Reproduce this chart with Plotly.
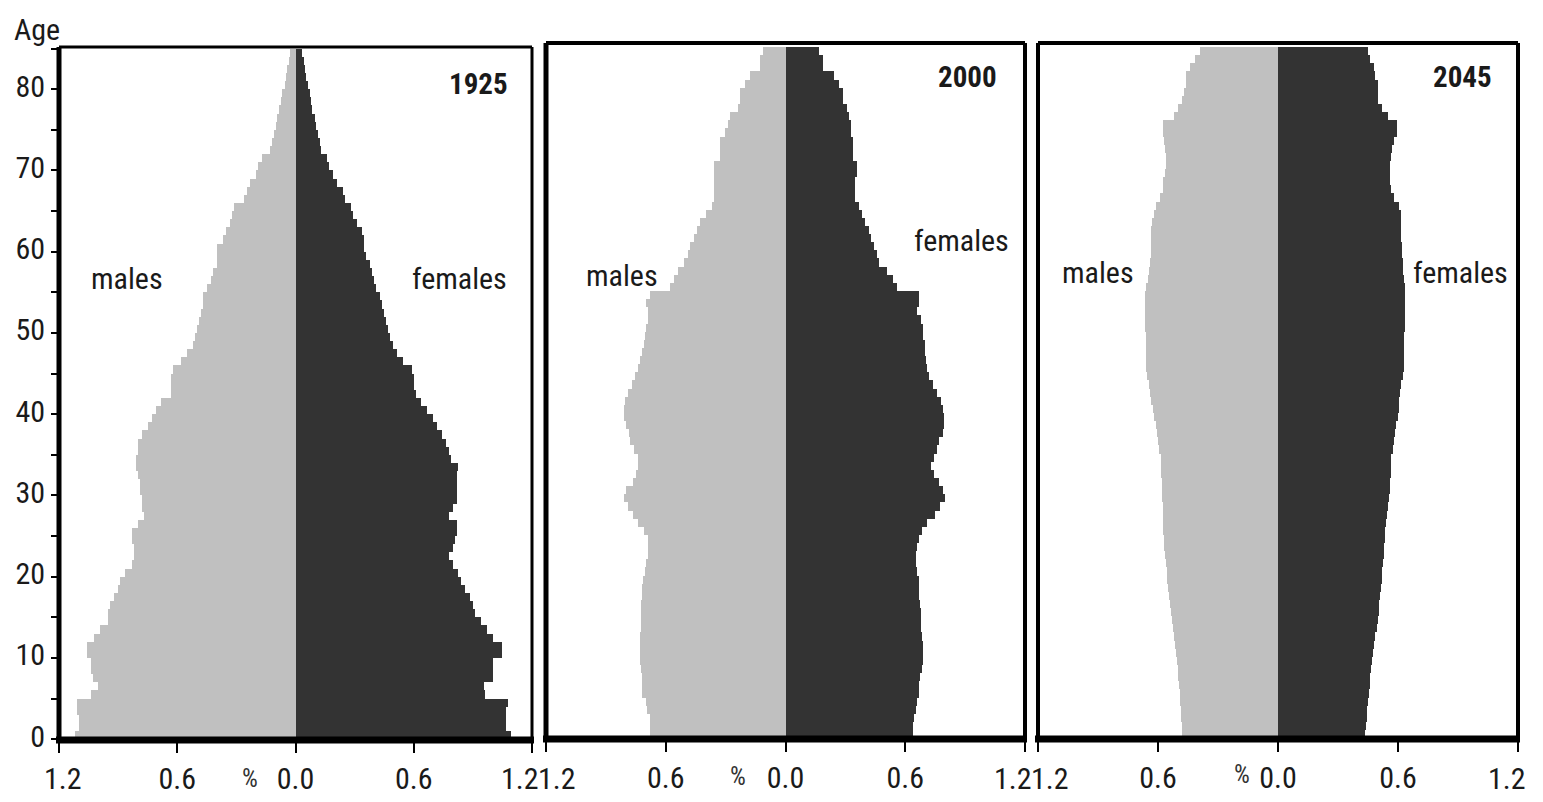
import plotly.graph_objects as go

# ---------------- data (percent of population by single year of age) ----------------
AGES = list(range(85))

MALES_1925 = [1.12, 1.10, 1.10, 1.11, 1.11, 1.04, 1.00, 1.03, 1.04, 1.04,
              1.06, 1.06, 1.02, 0.99, 0.95, 0.95, 0.94, 0.92, 0.90, 0.89,
              0.865, 0.83, 0.82, 0.82, 0.83, 0.83, 0.80, 0.77, 0.78, 0.78,
              0.79, 0.79, 0.80, 0.81, 0.81, 0.80, 0.80, 0.78, 0.75, 0.73,
              0.71, 0.68, 0.63, 0.63, 0.63, 0.62, 0.58, 0.55, 0.52, 0.51,
              0.50, 0.49, 0.48, 0.47, 0.47, 0.45, 0.43, 0.42, 0.40, 0.40,
              0.40, 0.37, 0.355, 0.33, 0.32, 0.31, 0.26, 0.245, 0.23, 0.20,
              0.19, 0.17, 0.13, 0.12, 0.11, 0.10, 0.095, 0.085, 0.075, 0.07,
              0.055, 0.05, 0.045, 0.035, 0.03]
FEMALES_1925 = [1.095, 1.07, 1.07, 1.07, 1.08, 0.96, 0.955, 1.00, 1.00, 1.00,
                1.05, 1.05, 1.00, 0.97, 0.94, 0.91, 0.90, 0.885, 0.86, 0.84,
                0.825, 0.80, 0.78, 0.80, 0.81, 0.82, 0.82, 0.78, 0.80, 0.82,
                0.82, 0.82, 0.82, 0.825, 0.79, 0.78, 0.765, 0.745, 0.72, 0.70,
                0.665, 0.635, 0.61, 0.60, 0.60, 0.59, 0.545, 0.515, 0.495, 0.48,
                0.47, 0.46, 0.45, 0.44, 0.43, 0.41, 0.40, 0.39, 0.38, 0.36,
                0.35, 0.35, 0.335, 0.31, 0.29, 0.28, 0.25, 0.24, 0.21, 0.19,
                0.17, 0.16, 0.13, 0.125, 0.115, 0.105, 0.10, 0.085, 0.08, 0.075,
                0.065, 0.055, 0.05, 0.045, 0.035]

MALES_2000 = [0.68, 0.68, 0.68, 0.695, 0.70, 0.72, 0.72, 0.72, 0.725, 0.73,
              0.73, 0.73, 0.73, 0.725, 0.725, 0.725, 0.722, 0.72, 0.72, 0.715,
              0.705, 0.70, 0.69, 0.69, 0.69, 0.71, 0.74, 0.765, 0.79, 0.81,
              0.80, 0.765, 0.75, 0.74, 0.74, 0.76, 0.78, 0.785, 0.80, 0.81,
              0.81, 0.805, 0.79, 0.77, 0.755, 0.74, 0.73, 0.72, 0.71, 0.705,
              0.70, 0.69, 0.69, 0.70, 0.68, 0.58, 0.56, 0.54, 0.51, 0.49,
              0.48, 0.46, 0.445, 0.43, 0.40, 0.37, 0.36, 0.36, 0.36, 0.36,
              0.36, 0.33, 0.33, 0.33, 0.305, 0.29, 0.28, 0.24, 0.23, 0.23,
              0.205, 0.18, 0.13, 0.13, 0.113]
FEMALES_2000 = [0.64, 0.64, 0.645, 0.655, 0.66, 0.67, 0.67, 0.675, 0.685, 0.69,
                0.69, 0.69, 0.685, 0.68, 0.68, 0.68, 0.675, 0.67, 0.67, 0.67,
                0.66, 0.655, 0.655, 0.66, 0.67, 0.685, 0.71, 0.75, 0.775, 0.80,
                0.79, 0.77, 0.745, 0.73, 0.745, 0.76, 0.77, 0.79, 0.795, 0.795,
                0.79, 0.78, 0.76, 0.74, 0.72, 0.71, 0.705, 0.70, 0.70, 0.69,
                0.69, 0.68, 0.66, 0.67, 0.67, 0.56, 0.54, 0.51, 0.47, 0.46,
                0.445, 0.43, 0.42, 0.40, 0.385, 0.37, 0.35, 0.35, 0.35, 0.36,
                0.36, 0.34, 0.34, 0.34, 0.33, 0.33, 0.32, 0.31, 0.29, 0.29,
                0.27, 0.245, 0.19, 0.187, 0.17]

MALES_2045 = [0.48, 0.482, 0.483, 0.485, 0.488, 0.492, 0.495, 0.498, 0.502, 0.507,
              0.512, 0.517, 0.522, 0.527, 0.532, 0.535, 0.538, 0.543, 0.55, 0.553,
              0.557, 0.562, 0.565, 0.568, 0.57, 0.573, 0.575, 0.575, 0.577, 0.578,
              0.58, 0.582, 0.583, 0.585, 0.587, 0.593, 0.60, 0.603, 0.608, 0.62,
              0.625, 0.635, 0.64, 0.645, 0.655, 0.66, 0.66, 0.66, 0.66, 0.66,
              0.665, 0.665, 0.665, 0.665, 0.665, 0.66, 0.65, 0.645, 0.64, 0.635,
              0.635, 0.635, 0.635, 0.63, 0.62, 0.61, 0.59, 0.575, 0.575, 0.565,
              0.56, 0.56, 0.565, 0.57, 0.575, 0.575, 0.52, 0.50, 0.48, 0.47,
              0.46, 0.46, 0.44, 0.415, 0.39]
FEMALES_2045 = [0.437, 0.44, 0.443, 0.447, 0.45, 0.453, 0.458, 0.462, 0.467, 0.47,
                0.475, 0.48, 0.487, 0.493, 0.50, 0.503, 0.507, 0.51, 0.515, 0.518,
                0.522, 0.525, 0.53, 0.532, 0.533, 0.537, 0.542, 0.547, 0.55, 0.553,
                0.558, 0.562, 0.563, 0.565, 0.567, 0.577, 0.582, 0.587, 0.592, 0.602,
                0.605, 0.605, 0.61, 0.615, 0.625, 0.63, 0.63, 0.63, 0.63, 0.632,
                0.635, 0.637, 0.637, 0.637, 0.637, 0.635, 0.628, 0.625, 0.625, 0.62,
                0.618, 0.617, 0.617, 0.617, 0.615, 0.605, 0.58, 0.563, 0.56, 0.558,
                0.562, 0.565, 0.57, 0.58, 0.597, 0.597, 0.55, 0.52, 0.50, 0.50,
                0.50, 0.485, 0.48, 0.46, 0.45]

YEARS = ["1925", "2000", "2045"]
MALES = [MALES_1925, MALES_2000, MALES_2045]
FEMALES = [FEMALES_1925, FEMALES_2000, FEMALES_2045]

X_TICK_VALUES = [-1.2, -0.6, 0.0, 0.6, 1.2]
X_TICK_LABELS = ["1.2", "0.6", "0.0", "0.6", "1.2"]
Y_TICK_VALUES = [0, 10, 20, 30, 40, 50, 60, 70, 80]

# ---------------- style ----------------
W, H = 1543, 802
FONT = "Roboto Condensed, Liberation Sans Narrow, Arial Narrow, Liberation Sans, sans-serif"
MALE_COLOR = "#c0c0c0"
FEMALE_COLOR = "#333333"
TEXT_COLOR = "#1a1a1a"
TICK_SIZE = 30

# panel boxes in pixels: left, right, top, bottom
PANELS = [(59, 532, 47, 740), (546, 1025, 43, 739), (1038, 1518, 43, 739)]
Y_RANGES = [[-0.1, 85.2], [-0.1, 85.5], [-0.1, 85.5]]
FRAME_W = [dict(top=3, right=3, left=5, bottom=7),
           dict(top=4, right=4, left=5, bottom=7),
           dict(top=4, right=4, left=4, bottom=7)]
# pixel shifts of the outer "1.2" labels (left, right) so neighbouring panels don't collide
EDGE_SHIFT = [(4, -12), (11, -12), (12, -11)]


def fx(p):
    return p / W


def fy(p):
    return 1 - p / H


fig = go.Figure()
layout = {}
shapes = []
annotations = []


def label(text, px, py, size=30, color=TEXT_COLOR, **kw):
    d = dict(text=text, x=fx(px), y=fy(py), xref="paper", yref="paper",
             xanchor="center", yanchor="middle", showarrow=False,
             font=dict(family=FONT, size=size, color=color))
    d.update(kw)
    return d


for i, (year, m, f) in enumerate(zip(YEARS, MALES, FEMALES)):
    sfx = "" if i == 0 else str(i + 1)
    xa, ya = "x" + sfx, "y" + sfx
    ages_mid = [a + 0.5 for a in AGES]
    fig.add_trace(go.Bar(y=ages_mid, x=[-v for v in m], orientation="h", width=1,
                         marker=dict(color=MALE_COLOR, line=dict(width=0)),
                         xaxis=xa, yaxis=ya, hoverinfo="skip"))
    fig.add_trace(go.Bar(y=ages_mid, x=f, orientation="h", width=1,
                         marker=dict(color=FEMALE_COLOR, line=dict(width=0)),
                         xaxis=xa, yaxis=ya, hoverinfo="skip"))

    l, r, t, b = PANELS[i]
    inner_text = ["" if abs(v) == 1.2 else s for v, s in zip(X_TICK_VALUES, X_TICK_LABELS)]
    layout["xaxis" + sfx] = dict(
        domain=[fx(l), fx(r)], anchor=ya, range=[-1.2, 1.2],
        tickvals=X_TICK_VALUES, ticktext=inner_text,
        ticks="outside", ticklen=12, tickwidth=2, tickcolor="#000",
        tickfont=dict(family=FONT, size=TICK_SIZE, color=TEXT_COLOR),
        showgrid=False, zeroline=False, showline=False, automargin=False,
        fixedrange=True)
    ydict = dict(
        domain=[fy(b), fy(t)], anchor=xa, range=Y_RANGES[i],
        showgrid=False, zeroline=False, showline=False, automargin=False,
        fixedrange=True)
    if i == 0:
        ydict.update(tickvals=Y_TICK_VALUES, ticks="outside", ticklen=7,
                     tickwidth=2, tickcolor="#000", ticklabelshift=-3,
                     tickfont=dict(family=FONT, size=TICK_SIZE, color=TEXT_COLOR),
                     minor=dict(dtick=5, tick0=0, ticks="outside", ticklen=7,
                                tickwidth=2, tickcolor="#000"))
    else:
        ydict.update(showticklabels=False, ticks="")
    layout["yaxis" + sfx] = ydict

    # outer tick labels drawn as text next to their ticks
    for v, shift in zip([-1.2, 1.2], EDGE_SHIFT[i]):
        annotations.append(dict(text="1.2", x=v, xref=xa, y=fy(778), yref="paper",
                                xanchor="center", yanchor="middle", xshift=shift,
                                showarrow=False,
                                font=dict(family=FONT, size=TICK_SIZE, color=TEXT_COLOR)))

    w = FRAME_W[i]
    shapes += [
        dict(type="line", xref="paper", yref="paper", x0=fx(l), x1=fx(r), y0=fy(t), y1=fy(t),
             line=dict(color="#000", width=w["top"]), layer="above"),
        dict(type="line", xref="paper", yref="paper", x0=fx(r), x1=fx(r), y0=fy(b), y1=fy(t),
             line=dict(color="#000", width=w["right"]), layer="above"),
        dict(type="line", xref="paper", yref="paper", x0=fx(l), x1=fx(l), y0=fy(b), y1=fy(t),
             line=dict(color="#000", width=w["left"]), layer="above"),
        dict(type="line", xref="paper", yref="paper", x0=fx(l - 3), x1=fx(r + 2),
             y0=fy(b), y1=fy(b),
             line=dict(color="#000", width=w["bottom"]), layer="above"),
    ]

YEAR_POS = [(478, 84), (967, 77), (1462, 77)]
MALE_POS = [(127, 278), (622, 275), (1098, 272)]
FEMALE_POS = [(459, 278), (961, 240), (1460, 272)]
PCT_POS = [(250, 778), (738, 776), (1242, 774)]

for i in range(3):
    annotations.append(label("<b>" + YEARS[i] + "</b>", *YEAR_POS[i], size=29))
    annotations.append(label("males", *MALE_POS[i]))
    annotations.append(label("females", *FEMALE_POS[i]))
    annotations.append(label("%", *PCT_POS[i], size=25, color="#333"))
annotations.append(label("Age", 37, 29))

fig.update_layout(
    width=W, height=H, margin=dict(l=0, r=0, t=0, b=0),
    paper_bgcolor="white", plot_bgcolor="white",
    barmode="overlay", bargap=0, showlegend=False,
    shapes=shapes, annotations=annotations, **layout)

fig.write_html("out.html", config={"displayModeBar": False},
               post_script="document.body.style.margin='0';document.body.style.overflow='hidden';")
